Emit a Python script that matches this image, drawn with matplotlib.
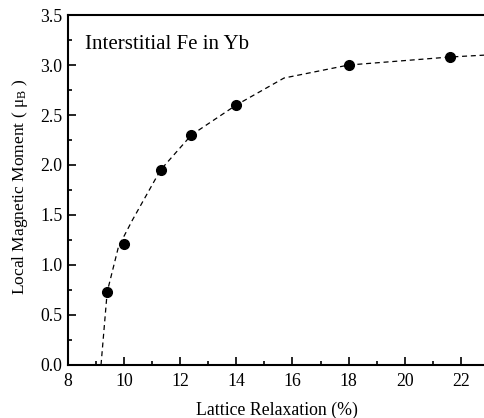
import matplotlib
matplotlib.use("Agg")
import matplotlib.pyplot as plt
from matplotlib.ticker import MultipleLocator

plt.rcParams['font.family'] = ['Liberation Serif', 'DejaVu Serif']
plt.rcParams['mathtext.fontset'] = 'custom'
plt.rcParams['mathtext.rm'] = 'Liberation Serif'
plt.rcParams['mathtext.it'] = 'Liberation Serif:italic'

# data points
relax = [9.4, 10.0, 11.3, 12.4, 14.0, 18.0, 21.6]
moment = [0.73, 1.21, 1.95, 2.30, 2.60, 3.00, 3.08]

# dashed guide curve
curve_x = [9.18, 9.4, 9.8, 10.3, 11.3, 12.4, 14.0, 15.7, 18.0, 21.6, 22.9]
curve_y = [0.0, 0.73, 1.18, 1.45, 1.95, 2.30, 2.60, 2.87, 3.00, 3.08, 3.10]

fig = plt.figure(figsize=(4.85, 4.18), dpi=100)
ax = fig.add_axes([0.140, 0.127, 0.860, 0.837])

ax.plot(curve_x, curve_y, linestyle=(0, (4, 3)), color='black', linewidth=0.9, zorder=2)
ax.plot(relax, moment, 'o', color='black', markersize=7, zorder=3)

ax.set_xlim(8, 22.86)
ax.set_ylim(0, 3.5)
ax.xaxis.set_major_locator(MultipleLocator(2))
ax.xaxis.set_minor_locator(MultipleLocator(1))
ax.yaxis.set_major_locator(MultipleLocator(0.5))
ax.yaxis.set_minor_locator(MultipleLocator(0.25))
ax.yaxis.set_major_formatter(matplotlib.ticker.FormatStrFormatter('%.1f'))
ax.tick_params(which='both', direction='in', labelsize=12.8, width=1.2)
ax.tick_params(which='major', length=6)
ax.tick_params(which='minor', length=3)
ax.tick_params(axis='x', pad=6)
ax.tick_params(axis='y', pad=4)
ax.spines['right'].set_visible(False)
for s in ['left', 'bottom', 'top']:
    ax.spines[s].set_linewidth(1.5)

ax.set_xlabel('Lattice Relaxation (%)', fontsize=12.8, labelpad=8)
ax.set_ylabel('Local Magnetic Moment ( μ$_\\mathregular{B}$ )', fontsize=12.5)
ax.yaxis.set_label_coords(-0.092, 0.51)
ax.text(0.04, 0.915, 'Interstitial Fe in Yb', transform=ax.transAxes, fontsize=15, ha='left', va='center')

fig.savefig('out.png', dpi=100)
